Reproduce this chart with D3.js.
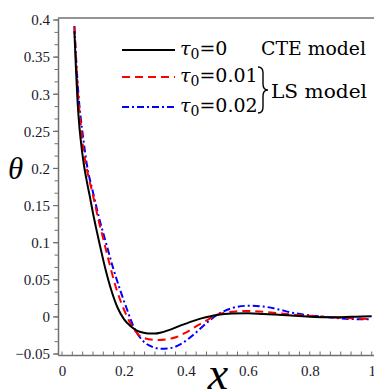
<!DOCTYPE html>
<html>
<head>
<meta charset="utf-8">
<script src="https://cdn.jsdelivr.net/npm/d3@7/dist/d3.min.js"></script>
<style>
  html, body { margin: 0; padding: 0; background: #fff; }
  svg { display: block; }
</style>
</head>
<body>
<svg id="chart" width="374" height="392"></svg>
<script>
// Temperature θ along x for three relaxation times τ0
const xTau0 = [0.04, 0.045, 0.05, 0.055, 0.06, 0.07, 0.08, 0.09, 0.10, 0.11, 0.12, 0.14, 0.16, 0.18, 0.20, 0.22, 0.24, 0.26, 0.28, 0.30, 0.32, 0.34, 0.36, 0.38, 0.40, 0.42, 0.45, 0.48, 0.50, 0.55, 0.60, 0.65, 0.70, 0.75, 0.80, 0.85, 0.90, 0.95, 1.00];
const thetaTau0 = [0.385, 0.335, 0.292, 0.262, 0.240, 0.207, 0.183, 0.162, 0.140, 0.120, 0.101, 0.065, 0.035, 0.012, -0.003, -0.012, -0.018, -0.021, -0.0225, -0.0225, -0.021, -0.0185, -0.0155, -0.012, -0.009, -0.006, -0.002, 0.001, 0.0025, 0.0045, 0.005, 0.004, 0.003, 0.0015, 0.0003, -0.0003, -0.0003, 0.0003, 0.001];

const xTau001 = [0.04, 0.045, 0.05, 0.055, 0.06, 0.067, 0.08, 0.10, 0.12, 0.134, 0.15, 0.177, 0.20, 0.22, 0.25, 0.28, 0.31, 0.34, 0.37, 0.40, 0.44, 0.47, 0.50, 0.55, 0.60, 0.65, 0.70, 0.75, 0.80, 0.85, 0.90, 0.95, 1.00];
const thetaTau001 = [0.391, 0.350, 0.312, 0.283, 0.262, 0.232, 0.200, 0.164, 0.127, 0.104, 0.077, 0.036, 0.010, -0.008, -0.025, -0.030, -0.031, -0.030, -0.027, -0.021, -0.011, -0.004, 0.003, 0.007, 0.008, 0.007, 0.005, 0.003, 0.0015, 0.0, -0.001, -0.002, -0.003];

const xTau002 = [0.04, 0.045, 0.05, 0.055, 0.06, 0.07, 0.08, 0.10, 0.12, 0.142, 0.165, 0.188, 0.21, 0.231, 0.263, 0.29, 0.32, 0.35, 0.39, 0.43, 0.47, 0.51, 0.55, 0.60, 0.65, 0.70, 0.74, 0.80, 0.85, 0.90, 0.95, 1.00];
const thetaTau002 = [0.392, 0.352, 0.318, 0.290, 0.270, 0.236, 0.206, 0.168, 0.133, 0.100, 0.066, 0.036, 0.010, -0.013, -0.033, -0.040, -0.043, -0.042, -0.035, -0.022, -0.007, 0.005, 0.012, 0.015, 0.014, 0.010, 0.006, 0.002, 0.0, -0.002, -0.003, -0.003];

const xTicks = [0, 0.2, 0.4, 0.6, 0.8, 1];
const yTicks = [-0.05, 0, 0.05, 0.1, 0.15, 0.2, 0.25, 0.3, 0.35, 0.4];
const legendLabels = ["0", "0.01", "0.02"];

const series = [
  { xs: xTau0, ys: thetaTau0, color: "#000000", dash: null, label: legendLabels[0] },
  { xs: xTau001, ys: thetaTau001, color: "#ff0000", dash: "8,5", label: legendLabels[1] },
  { xs: xTau002, ys: thetaTau002, color: "#0000ff", dash: "7,3,2,3", label: legendLabels[2] }
];

const svg = d3.select("#chart");
const plotLeft = 58, plotRight = 376, plotTop = 18, plotBottom = 355;

const x = d3.scaleLinear().domain([-0.0129, 1.0139]).range([plotLeft, plotRight]);
const y = d3.scaleLinear().domain([-0.0513, 0.4027]).range([plotBottom, plotTop]);

const axisColor = "#707070";
const tickFont = "Liberation Serif";
const legendFont = "DejaVu Serif";

// frame
svg.append("line").attr("x1", plotLeft).attr("x2", plotRight).attr("y1", plotTop).attr("y2", plotTop)
  .attr("stroke", axisColor).attr("stroke-width", 1.5);

// minor tick positions
const xMinor = d3.range(0, 31).map(i => i / 30);
const yMinor = d3.range(-3, 25).map(i => i / 60);

// bottom axis: ticks point up into the plot
const gx = svg.append("g").attr("transform", `translate(0,${plotBottom})`)
  .call(d3.axisBottom(x).tickValues(xTicks).tickSize(0).tickPadding(10)
    .tickFormat(d => d3.format("~g")(d)));
gx.select(".domain").attr("stroke", axisColor).attr("stroke-width", 1.5);
gx.selectAll("text").style("font-family", tickFont).style("font-size", "15px").attr("fill", "#1a1a2a");
gx.selectAll(".minor").data(xMinor).enter().append("line")
  .attr("x1", d => x(d)).attr("x2", d => x(d)).attr("y1", 0).attr("y2", -3.5)
  .attr("stroke", axisColor).attr("stroke-width", 1);

// left axis: ticks point outward
const gy = svg.append("g").attr("transform", `translate(${plotLeft},0)`)
  .call(d3.axisLeft(y).tickValues(yTicks).tickSize(0).tickPadding(8)
    .tickFormat(d => d3.format("~g")(d).replace("-", "\u2212")));
gy.select(".domain").attr("stroke", axisColor).attr("stroke-width", 1.5);
gy.selectAll("text").style("font-family", tickFont).style("font-size", "15px").attr("fill", "#1a1a2a");
gy.selectAll(".minor").data(yMinor).enter().append("line")
  .attr("x1", 0).attr("x2", -3.5).attr("y1", d => y(d)).attr("y2", d => y(d))
  .attr("stroke", axisColor).attr("stroke-width", 1);
gy.selectAll(".major").data(yTicks).enter().append("line")
  .attr("x1", 0).attr("x2", -5).attr("y1", d => y(d)).attr("y2", d => y(d))
  .attr("stroke", axisColor).attr("stroke-width", 1.2);

// curves
const line = d3.line().x(d => x(d[0])).y(d => y(d[1])).curve(d3.curveMonotoneX);
series.slice().reverse().forEach(s => {
  svg.append("path")
    .datum(s.xs.map((v, i) => [v, s.ys[i]]))
    .attr("d", line)
    .attr("fill", "none")
    .attr("stroke", s.color)
    .attr("stroke-width", 2)
    .attr("stroke-dasharray", s.dash);
});

// axis titles
svg.append("text").attr("x", 8).attr("y", 179)
  .style("font-family", tickFont).style("font-style", "italic").style("font-size", "31px")
  .attr("fill", "#000").text("θ");
svg.append("text").attr("x", 218).attr("y", 389).attr("text-anchor", "middle")
  .style("font-family", tickFont).style("font-style", "italic").style("font-size", "46px")
  .attr("fill", "#000").text("x");

// legend
const legendY = [50, 77, 107];
series.forEach((s, i) => {
  svg.append("line").attr("x1", 122).attr("x2", 175)
    .attr("y1", legendY[i]).attr("y2", legendY[i])
    .attr("stroke", s.color).attr("stroke-width", 2)
    .attr("stroke-dasharray", s.dash);
  const t = svg.append("text").attr("x", 180).attr("y", legendY[i] + 5)
    .style("font-family", legendFont).style("font-size", "19px").attr("fill", "#000");
  t.append("tspan").style("font-style", "italic").text("τ");
  t.append("tspan").style("font-size", "14px").attr("dy", 4).text("0");
  t.append("tspan").attr("dy", -4).text("=" + s.label);
});
svg.append("text").attr("x", 261).attr("y", 55)
  .style("font-family", legendFont).style("font-size", "19px")
  .attr("textLength", 105).attr("lengthAdjust", "spacingAndGlyphs")
  .attr("fill", "#000").text("CTE model");
// brace grouping the two LS curves
svg.append("path")
  .attr("d", "M258,67 Q263,67 263,73 L263,84 Q263,90 268,90 Q263,90 263,96 L263,107 Q263,113 258,113")
  .attr("fill", "none").attr("stroke", "#000").attr("stroke-width", 1.4);
svg.append("text").attr("x", 271).attr("y", 98)
  .style("font-family", legendFont).style("font-size", "19px")
  .attr("textLength", 96).attr("lengthAdjust", "spacingAndGlyphs")
  .attr("fill", "#000").text("LS model");
</script>
</body>
</html>
